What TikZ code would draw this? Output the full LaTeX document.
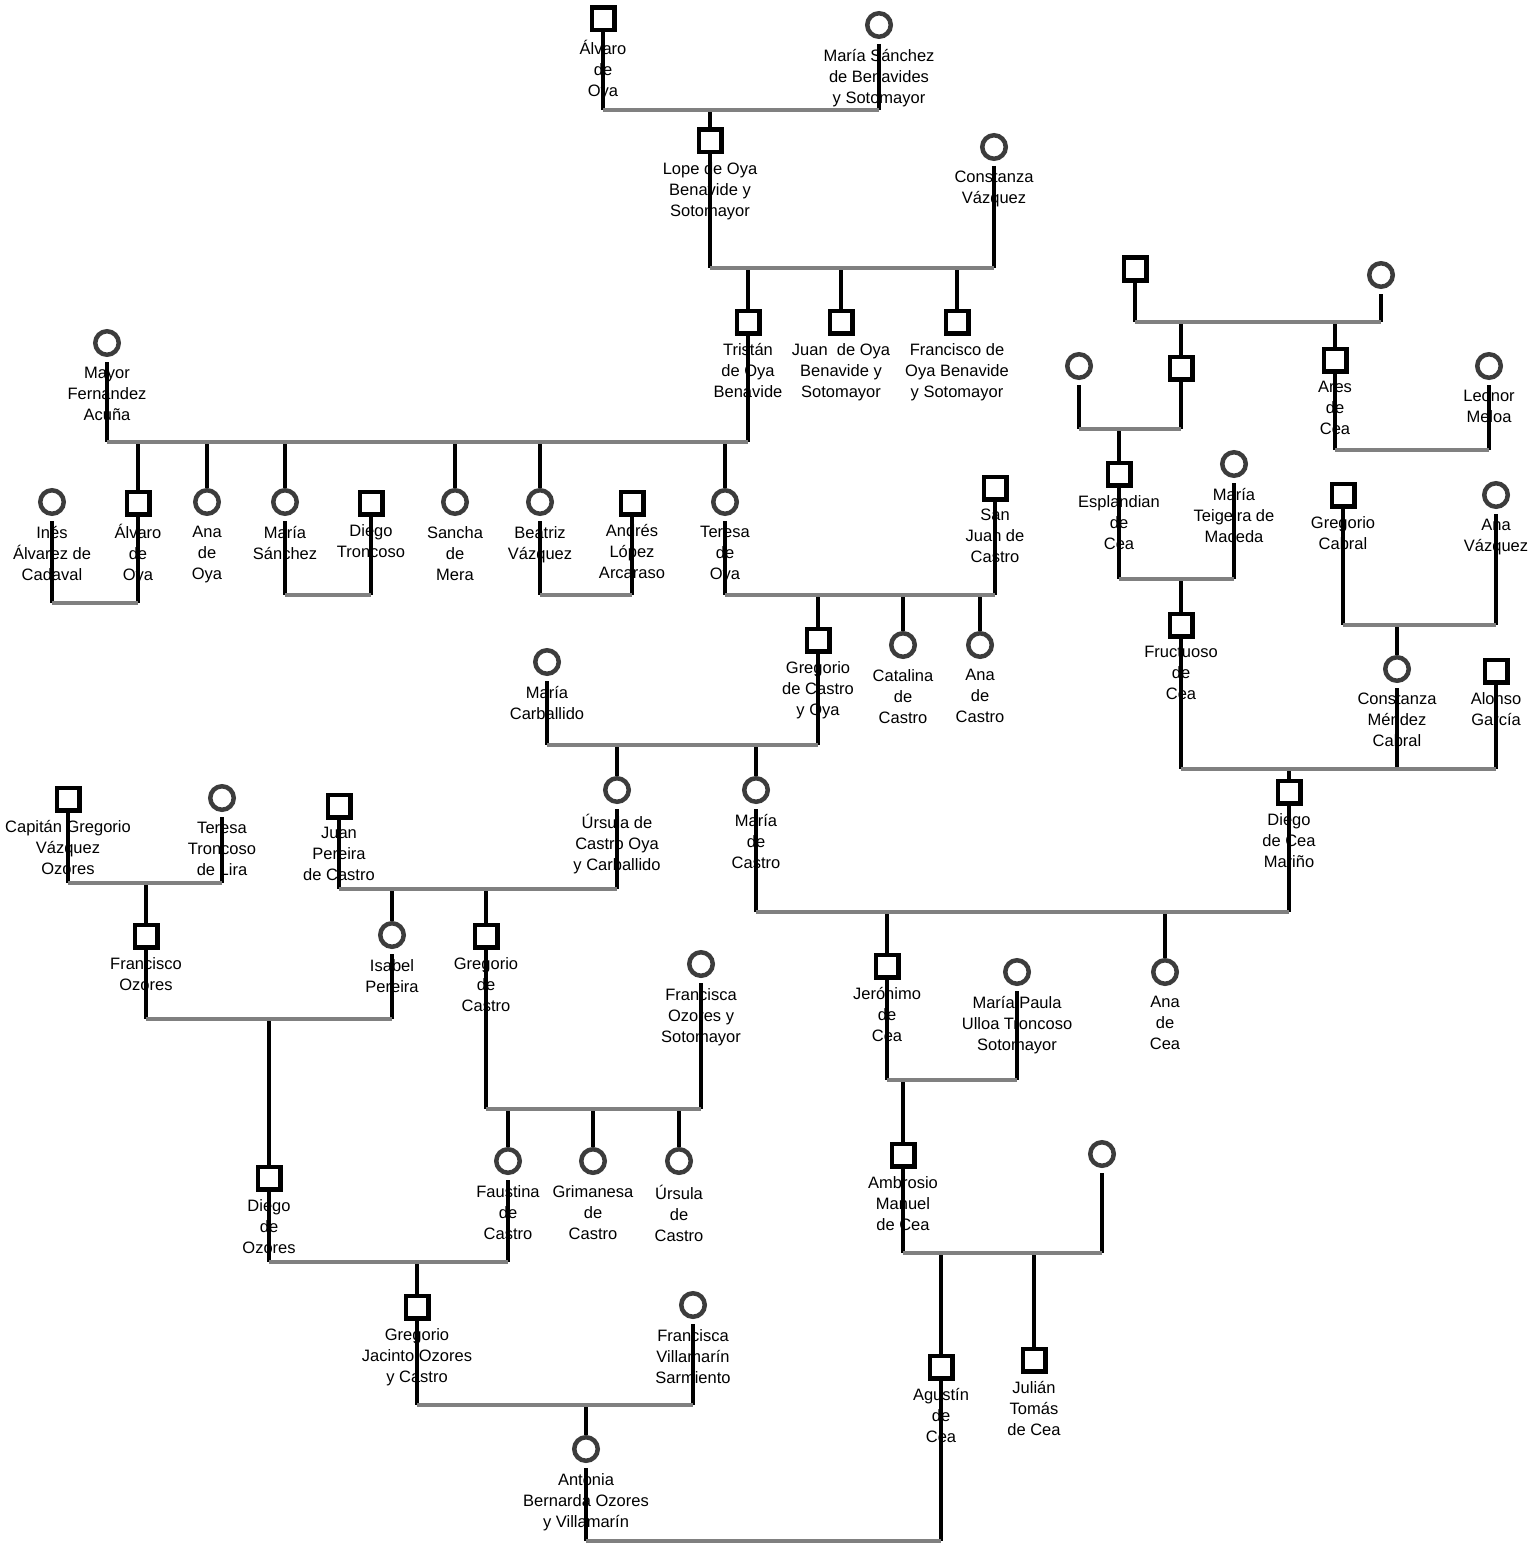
\documentclass[tikz,border=0pt]{standalone}
\usepackage{fontspec}
\setmainfont{Liberation Sans}
\definecolor{circ}{HTML}{3C3C3C}
\definecolor{barg}{HTML}{808080}
\tikzset{
  msq/.style={rectangle, draw=black, line width=4.5pt, fill=white, minimum size=22.5pt, inner sep=0pt},
  fci/.style={circle, draw=circ, line width=4.5pt, fill=white, minimum size=23.5pt, inner sep=0pt},
  lbl/.style={font=\fontsize{16.5}{21}\selectfont, align=center, inner sep=0pt, anchor=north,
              execute at begin node=\rule{0pt}{17pt}},
  vl/.style={line width=4.5pt, draw=black},
  vf/.style={vl, shorten <=5pt},
  bar/.style={line width=4.5pt, draw=barg},
}
\newcommand\personM[4]{\node[msq] (#1) at (#2,#3) {}; \node[lbl] (#1-l) at ([yshift=-21pt]#1.center) {#4};}
\newcommand\personF[4]{\node[fci] (#1) at (#2,#3) {}; \node[lbl] (#1-l) at ([yshift=-24pt]#1.center) {#4};}
\begin{document}
\begin{tikzpicture}[x=1pt, y=-1pt]
\useasboundingbox (0,0) rectangle (1536,1546);

% ---------------- people ----------------
\personM{alv}{603}{19}{Álvaro\\de\\Oya}
\personF{msb}{879}{25}{María Sánchez\\de Benavides\\y Sotomayor}
\personM{lope}{710}{141}{Lope de Oya\\Benavide y\\Sotomayor}
\personF{cvz}{994}{147}{Constanza\\Vázquez}
\personM{tri}{748}{322}{Tristán\\de Oya\\Benavide}
\personM{jua}{841}{322}{Juan\ \ de Oya\\Benavide y\\Sotomayor}
\personM{fra}{957}{322}{Francisco de\\Oya Benavide\\y Sotomayor}
\personF{mfa}{107}{343}{Mayor\\Fernandez\\Acuña}
\personF{ine}{52}{502}{Inés\\Álvarez de\\Cadaval}
\personM{alv2}{138}{503}{Álvaro\\de\\Oya}
\personF{ana}{207}{502}{Ana\\de\\Oya}
\personF{msa}{285}{502}{María\\Sánchez}
\personM{dtr}{371}{503}{Diego\\Troncoso}
\personF{san}{455}{502}{Sancha\\de\\Mera}
\personF{bea}{540}{502}{Beatriz\\Vázquez}
\personM{alo}{632}{503}{Andrés\\López\\Arcaraso}
\personF{ter}{725}{502}{Teresa\\de\\Oya}
\personM{sjc}{995}{488}{San\\Juan de\\Castro}
\personM{gcy}{818}{640}{Gregorio\\de Castro\\y Oya}
\personF{cat}{903}{645}{Catalina\\de\\Castro}
\personF{anc}{980}{645}{Ana\\de\\Castro}
\personF{mca}{547}{662}{María\\Carballido}
\personF{urs}{617}{790}{Úrsula de\\Castro Oya\\y Carballido}
\personF{mdc}{756}{790}{María\\de\\Castro}
\personM{jpc}{339}{806}{Juan\\Pereira\\de Castro}
\personM{cgv}{68}{799}{Capitán Gregorio\\Vázquez\\Ozores}
\personF{ttl}{222}{798}{Teresa\\Troncoso\\de Lira}
\personM{fo}{146}{936}{Francisco\\Ozores}
\personF{isa}{392}{935}{Isabel\\Pereira}
\personM{gdc}{486}{936}{Gregorio\\de\\Castro}
\personF{fos}{701}{964}{Francisca\\Ozores y\\Sotomayor}
\personM{ddo}{269}{1178}{Diego\\de\\Ozores}
\personF{fau}{508}{1161}{Faustina\\de\\Castro}
\personF{gri}{593}{1161}{Grimanesa\\de\\Castro}
\personF{urc}{679}{1161}{Úrsula\\de\\Castro}
\personM{gjo}{417}{1307}{Gregorio\\Jacinto Ozores\\y Castro}
\personF{fvs}{693}{1305}{Francisca\\Villamarín\\Sarmiento}
\personF{abo}{586}{1449}{Antonia\\Bernarda Ozores\\y Villamarín}

\node[msq] (t1) at (1135,269) {};
\node[fci] (t2) at (1381,275) {};
\node[msq] (c1) at (1181,368) {};
\node[fci] (w1) at (1079,366) {};
\personM{are}{1335}{360}{Ares\\de\\Cea}
\personF{leo}{1489}{366}{Leonor\\Meloa}
\personM{esp}{1119}{474}{Esplandian\\de\\Cea}
\personF{mtm}{1234}{464}{María\\Teigeira de\\Maceda}
\personM{fru}{1181}{625}{Fructuoso\\de\\Cea}
\personM{gca}{1343}{495}{Gregorio\\Cabral}
\personF{avz}{1496}{495}{Ana\\Vázquez}
\personF{cmc}{1397}{669}{Constanza\\Méndez\\Cabral}
\personM{alg}{1496}{671}{Alonso\\García}
\personM{dcm}{1289}{792}{Diego\\de Cea\\Mariño}
\personM{jer}{887}{966}{Jerónimo\\de\\Cea}
\personF{mpu}{1017}{972}{María Paula\\Ulloa Troncoso\\Sotomayor}
\personF{adc}{1165}{972}{Ana\\de\\Cea}
\personM{amc}{903}{1155}{Ambrosio\\Manuel\\de Cea}
\node[fci] (w2) at (1102,1154) {};
\personM{agu}{941}{1367}{Agustín\\de\\Cea}
\personM{jul}{1034}{1360}{Julián\\Tomás\\de Cea}

% ---------------- bar levels ----------------
\coordinate (B1) at (0,110);
\coordinate (B2) at (0,268);
\coordinate (B3) at (0,442);
\coordinate (B4) at (0,603);
\coordinate (B5) at (0,595);
\coordinate (B8) at (0,745);
\coordinate (B9) at (0,889);
\coordinate (B10) at (0,883);
\coordinate (B11) at (0,1019);
\coordinate (B12) at (0,1109);
\coordinate (B13) at (0,1262);
\coordinate (B14) at (0,1405);
\coordinate (B15) at (0,1541);
\coordinate (B16) at (0,322);
\coordinate (B17) at (0,429);
\coordinate (B18) at (0,450);
\coordinate (B19) at (0,579);
\coordinate (B20) at (0,625);
\coordinate (B21) at (0,769);
\coordinate (B22) at (0,912);
\coordinate (B23) at (0,1080);
\coordinate (B24) at (0,1253);

% ---------------- descent lines ----------------
% family 1
\draw[vl] (alv) -- (alv |- B1);
\draw[vf] (msb) -- (msb |- B1);
\draw[vl] (lope |- B1) -- (lope);
% family 2
\draw[vl] (lope) -- (lope |- B2);
\draw[vf] (cvz) -- (cvz |- B2);
\draw[vl] (tri |- B2) -- (tri);
\draw[vl] (jua |- B2) -- (jua);
\draw[vl] (fra |- B2) -- (fra);
% family 3
\draw[vf] (mfa) -- (mfa |- B3);
\draw[vl] (tri) -- (tri |- B3);
\draw[vl] (alv2 |- B3) -- (alv2);
\draw[vl] (ana |- B3) -- (ana);
\draw[vl] (msa |- B3) -- (msa);
\draw[vl] (san |- B3) -- (san);
\draw[vl] (bea |- B3) -- (bea);
\draw[vl] (ter |- B3) -- (ter);
% marriages of row 3
\draw[vf] (ine) -- (ine |- B4);
\draw[vl] (alv2) -- (alv2 |- B4);
\draw[vf] (msa) -- (msa |- B5);
\draw[vl] (dtr) -- (dtr |- B5);
\draw[vf] (bea) -- (bea |- B5);
\draw[vl] (alo) -- (alo |- B5);
\draw[vf] (ter) -- (ter |- B5);
\draw[vl] (sjc) -- (sjc |- B5);
\draw[vl] (gcy |- B5) -- (gcy);
\draw[vl] (cat |- B5) -- (cat);
\draw[vl] (anc |- B5) -- (anc);
% family 8
\draw[vf] (mca) -- (mca |- B8);
\draw[vl] (gcy) -- (gcy |- B8);
\draw[vl] (urs |- B8) -- (urs);
\draw[vl] (mdc |- B8) -- (mdc);
% family 9
\draw[vl] (jpc) -- (jpc |- B9);
\draw[vf] (urs) -- (urs |- B9);
\draw[vl] (isa |- B9) -- (isa);
\draw[vl] (gdc |- B9) -- (gdc);
% family 10
\draw[vl] (cgv) -- (cgv |- B10);
\draw[vf] (ttl) -- (ttl |- B10);
\draw[vl] (fo |- B10) -- (fo);
% family 11
\draw[vl] (fo) -- (fo |- B11);
\draw[vf] (isa) -- (isa |- B11);
\draw[vl] (ddo |- B11) -- (ddo);
% family 12
\draw[vl] (gdc) -- (gdc |- B12);
\draw[vf] (fos) -- (fos |- B12);
\draw[vl] (fau |- B12) -- (fau);
\draw[vl] (gri |- B12) -- (gri);
\draw[vl] (urc |- B12) -- (urc);
% family 13
\draw[vl] (ddo) -- (ddo |- B13);
\draw[vf] (fau) -- (fau |- B13);
\draw[vl] (gjo |- B13) -- (gjo);
% family 14
\draw[vl] (gjo) -- (gjo |- B14);
\draw[vf] (fvs) -- (fvs |- B14);
\draw[vl] (abo |- B14) -- (abo);
% family 15
\draw[vf] (abo) -- (abo |- B15);
\draw[vl] (agu) -- (agu |- B15);
% Cea family
\draw[vl] (t1) -- (t1 |- B16);
\draw[vf] (t2) -- (t2 |- B16);
\draw[vl] (c1 |- B16) -- (c1);
\draw[vl] (are |- B16) -- (are);
\draw[vf] (w1) -- (w1 |- B17);
\draw[vl] (c1) -- (c1 |- B17);
\draw[vl] (esp |- B17) -- (esp);
\draw[vl] (are) -- (are |- B18);
\draw[vf] (leo) -- (leo |- B18);
\draw[vl] (esp) -- (esp |- B19);
\draw[vf] (mtm) -- (mtm |- B19);
\draw[vl] (fru |- B19) -- (fru);
\draw[vl] (gca) -- (gca |- B20);
\draw[vf] (avz) -- (avz |- B20);
\draw[vl] (cmc |- B20) -- (cmc);
\draw[vl] (fru) -- (fru |- B21);
\draw[vf] (cmc) -- (cmc |- B21);
\draw[vl] (alg) -- (alg |- B21);
\draw[vl] (dcm |- B21) -- (dcm);
\draw[vf] (mdc) -- (mdc |- B22);
\draw[vl] (dcm) -- (dcm |- B22);
\draw[vl] (jer |- B22) -- (jer);
\draw[vl] (adc |- B22) -- (adc);
\draw[vl] (jer) -- (jer |- B23);
\draw[vf] (mpu) -- (mpu |- B23);
\draw[vl] (amc |- B23) -- (amc);
\draw[vl] (amc) -- (amc |- B24);
\draw[vf] (w2) -- (w2 |- B24);
\draw[vl] (agu |- B24) -- (agu);
\draw[vl] (jul |- B24) -- (jul);

% ---------------- marriage bars ----------------
\draw[bar] (alv |- B1) -- (msb |- B1);
\draw[bar] (lope |- B2) -- (cvz |- B2);
\draw[bar] (mfa |- B3) -- (tri |- B3);
\draw[bar] (ine |- B4) -- (alv2 |- B4);
\draw[bar] (msa |- B5) -- (dtr |- B5);
\draw[bar] (bea |- B5) -- (alo |- B5);
\draw[bar] (ter |- B5) -- (sjc |- B5);
\draw[bar] (mca |- B8) -- (gcy |- B8);
\draw[bar] (jpc |- B9) -- (urs |- B9);
\draw[bar] (cgv |- B10) -- (ttl |- B10);
\draw[bar] (fo |- B11) -- (isa |- B11);
\draw[bar] (gdc |- B12) -- (fos |- B12);
\draw[bar] (ddo |- B13) -- (fau |- B13);
\draw[bar] (gjo |- B14) -- (fvs |- B14);
\draw[bar] (abo |- B15) -- (agu |- B15);
\draw[bar] (t1 |- B16) -- (t2 |- B16);
\draw[bar] (w1 |- B17) -- (c1 |- B17);
\draw[bar] (are |- B18) -- (leo |- B18);
\draw[bar] (esp |- B19) -- (mtm |- B19);
\draw[bar] (gca |- B20) -- (avz |- B20);
\draw[bar] (fru |- B21) -- (alg |- B21);
\draw[bar] (mdc |- B22) -- (dcm |- B22);
\draw[bar] (jer |- B23) -- (mpu |- B23);
\draw[bar] (amc |- B24) -- (w2 |- B24);
\end{tikzpicture}
\end{document}
